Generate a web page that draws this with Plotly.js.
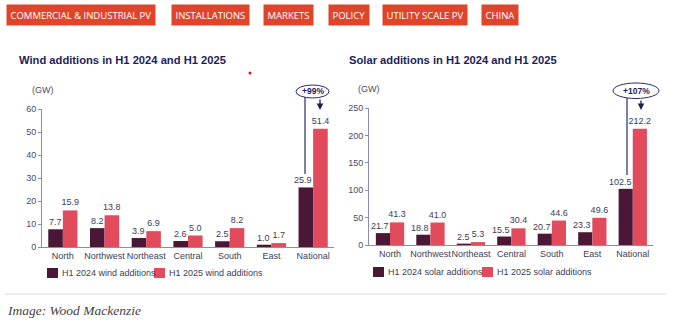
<!DOCTYPE html>
<html>
<head>
<meta charset="utf-8">
<script src="https://cdn.plot.ly/plotly-3.0.1.min.js"></script>
<style>
html,body{margin:0;padding:0;background:#fff;}
#chart{width:685px;height:325px;}
</style>
</head>
<body>
<div id="chart"></div>
<script>
const regions = ["North","Northwest","Northeast","Central","South","East","National"];
const wind2024 = [7.7, 8.2, 3.9, 2.6, 2.5, 1.0, 25.9];
const wind2025 = [15.9, 13.8, 6.9, 5.0, 8.2, 1.7, 51.4];
const solar2024 = [21.7, 18.8, 2.5, 15.5, 20.7, 23.3, 102.5];
const solar2025 = [41.3, 41.0, 5.3, 30.4, 44.6, 49.6, 212.2];
const windTicks = [0,10,20,30,40,50,60];
const solarTicks = [0,50,100,150,200,250];
const tags = ["COMMERCIAL & INDUSTRIAL PV","INSTALLATIONS","MARKETS","POLICY","UTILITY SCALE PV","CHINA"];
const windGrowth = "+99%";
const solarGrowth = "+107%";

const W = 685, H = 325;
const px = x => x / W;
const py = y => 1 - y / H;

const DARK = "#4a1736";
const RED = "#e24b5b";
const FONT = "Liberation Sans, Arial, sans-serif";
const labelFont = {family: FONT, size: 9, color: "#3d3d55"};

function fmt(v){ return v.toFixed(1); }

function barTrace(x, y, name, color, xa, ya, withText){
  const t = {type:"bar", x:x, y:y, name:name, marker:{color:color},
   xaxis:xa, yaxis:ya, showlegend:false, hoverinfo:"none", cliponaxis:false};
  if (withText){
    t.text = y.map(fmt); t.textposition = "outside"; t.textfont = labelFont;
    t.constraintext = "none"; t.textangle = 0;
  }
  return t;
}

const traces = [
  barTrace(regions, wind2024, "H1 2024 wind additions", DARK, "x", "y", false),
  barTrace(regions, wind2025, "H1 2025 wind additions", RED, "x", "y", true),
  barTrace(regions, solar2024, "H1 2024 solar additions", DARK, "x2", "y2", false),
  barTrace(regions, solar2025, "H1 2025 solar additions", RED, "x2", "y2", true)
];

const axisColor = "#8c8cb0";
const tickFont = {family: FONT, size: 9, color: "#4a4a66"};

function xax(d0, d1, anchor){
  return {domain:[px(d0), px(d1)], anchor:anchor, showgrid:false, zeroline:false,
    showline:true, linecolor:axisColor, linewidth:1, ticks:"", tickangle:0,
    tickfont:{family:FONT,size:9,color:"#3d3d55"}, fixedrange:true};
}
function yax(top, bottom, range, ticks, anchor){
  return {domain:[py(bottom), py(top)], anchor:anchor, range:range, tickvals:ticks,
    showgrid:false, zeroline:false, showline:true, linecolor:axisColor, linewidth:1,
    ticks:"outside", ticklen:3, tickcolor:axisColor, tickfont:tickFont, fixedrange:true};
}

const annotations = [];
// labels for the H1 2024 bars: right-aligned to the bar's right edge (category centre)
function darkLabels(vals, xa, ya){
  vals.forEach((v,i)=>{
    annotations.push({xref:xa, yref:ya, x:regions[i], y:v, xanchor:"right", yanchor:"bottom",
      xshift:1, yshift:0, text:fmt(v), showarrow:false, font:labelFont});
  });
}
darkLabels(wind2024, "x", "y");
darkLabels(solar2024, "x2", "y2");

// tags
const tagX = [6, 171, 263, 328, 382, 481];
tags.forEach((t,i)=>{
  annotations.push({xref:"paper", yref:"paper", x:px(tagX[i]), y:py(15), xanchor:"left", yanchor:"middle",
    text:t, showarrow:false, bgcolor:"#e0452b", borderpad:3.5,
    font:{family:"Open Sans, sans-serif", size:9.5, color:"#ffffff"}});
});
// titles
annotations.push({xref:"paper", yref:"paper", x:px(17), y:py(60), xanchor:"left", yanchor:"middle",
  text:"<b>Wind additions in H1 2024 and H1 2025</b>", showarrow:false,
  font:{family:FONT, size:11.2, color:"#1d1d5c"}});
annotations.push({xref:"paper", yref:"paper", x:px(347), y:py(60), xanchor:"left", yanchor:"middle",
  text:"<b>Solar additions in H1 2024 and H1 2025</b>", showarrow:false,
  font:{family:FONT, size:11.2, color:"#1d1d5c"}});
// units
annotations.push({xref:"paper", yref:"paper", x:px(30), y:py(90), xanchor:"left", yanchor:"middle",
  text:"(GW)", showarrow:false, font:{family:FONT, size:9, color:"#4a4a66"}});
annotations.push({xref:"paper", yref:"paper", x:px(356), y:py(89), xanchor:"left", yanchor:"middle",
  text:"(GW)", showarrow:false, font:{family:FONT, size:9, color:"#4a4a66"}});
// growth labels
annotations.push({xref:"paper", yref:"paper", x:px(312.5), y:py(91.5), xanchor:"center", yanchor:"middle",
  text:"<b>"+windGrowth+"</b>", showarrow:false, font:{family:FONT, size:8.5, color:"#1d1d5c"}});
annotations.push({xref:"paper", yref:"paper", x:px(636), y:py(90.5), xanchor:"center", yanchor:"middle",
  text:"<b>"+solarGrowth+"</b>", showarrow:false, font:{family:FONT, size:8.5, color:"#1d1d5c"}});
// arrows
annotations.push({xref:"paper", yref:"paper", x:px(320), y:py(110), ax:0, ay:-12, axref:"pixel", ayref:"pixel",
  text:"", showarrow:true, arrowhead:2, arrowsize:1, arrowwidth:1.3, arrowcolor:"#1d1d5c"});
annotations.push({xref:"paper", yref:"paper", x:px(641), y:py(110), ax:0, ay:-11, axref:"pixel", ayref:"pixel",
  text:"", showarrow:true, arrowhead:2, arrowsize:1, arrowwidth:1.3, arrowcolor:"#1d1d5c"});
// legend entries
function legendItem(x, y, text){
  annotations.push({xref:"paper", yref:"paper", x:px(x+13), y:py(y), xanchor:"left", yanchor:"middle",
    text:text, showarrow:false, font:{family:FONT, size:9, color:"#3d3d55"}});
}
legendItem(47, 273, "H1 2024 wind additions");
legendItem(154, 273, "H1 2025 wind additions");
legendItem(373, 272, "H1 2024 solar additions");
legendItem(482, 272, "H1 2025 solar additions");
// footer
annotations.push({xref:"paper", yref:"paper", x:px(5), y:py(310), xanchor:"left", yanchor:"middle",
  text:"<i>Image: Wood Mackenzie</i>", showarrow:false,
  font:{family:"Liberation Serif, DejaVu Serif, serif", size:13.5, color:"#444444"}});

const shapes = [];
function rectPx(x0,y0,x1,y1,color){
  shapes.push({type:"rect", xref:"paper", yref:"paper", x0:px(x0), x1:px(x1), y0:py(y1), y1:py(y0),
    fillcolor:color, line:{width:0}});
}
rectPx(47, 268, 58, 278, DARK);
rectPx(154, 268, 165, 278, RED);
rectPx(373, 267, 384, 277, DARK);
rectPx(482, 267, 493, 277, RED);
// ellipses
shapes.push({type:"circle", xref:"paper", yref:"paper", x0:px(296), x1:px(329), y0:py(98), y1:py(85),
  line:{color:"#2a2a6e", width:1}, fillcolor:"rgba(0,0,0,0)"});
shapes.push({type:"circle", xref:"paper", yref:"paper", x0:px(613), x1:px(659), y0:py(98.5), y1:py(83),
  line:{color:"#2a2a6e", width:1}, fillcolor:"rgba(0,0,0,0)"});
// connector lines
shapes.push({type:"line", xref:"paper", yref:"paper", x0:px(305), x1:px(305), y0:py(97), y1:py(174),
  line:{color:"#2a2a6e", width:1.2}});
shapes.push({type:"line", xref:"paper", yref:"paper", x0:px(627), x1:px(627), y0:py(98), y1:py(175),
  line:{color:"#2a2a6e", width:1.2}});
// footer rule
shapes.push({type:"line", xref:"paper", yref:"paper", x0:px(5), x1:px(666), y0:py(294), y1:py(294),
  line:{color:"#d5dbe2", width:1}});
// red dot
shapes.push({type:"circle", xref:"paper", yref:"paper", x0:px(248.5), x1:px(251.5), y0:py(74.5), y1:py(71.5),
  fillcolor:"#e01010", line:{width:0}});

const layout = {
  width:W, height:H, margin:{l:0,r:0,t:0,b:0}, paper_bgcolor:"#fff", plot_bgcolor:"rgba(0,0,0,0)",
  barmode:"group", bargap:0.3, bargroupgap:0, showlegend:false,
  font:{family:FONT},
  xaxis: xax(42, 334, "y"),
  yaxis: yax(109, 247, [0,60], windTicks, "x"),
  xaxis2: xax(369, 653, "y2"),
  yaxis2: yax(108, 245, [0,250], solarTicks, "x2"),
  annotations: annotations,
  shapes: shapes
};

Plotly.newPlot("chart", traces, layout, {staticPlot:true, displayModeBar:false});
</script>
</body>
</html>
